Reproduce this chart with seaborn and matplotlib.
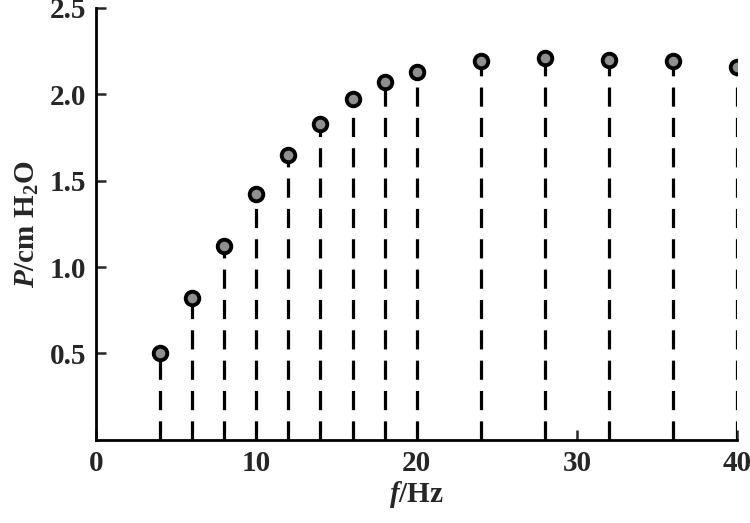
import matplotlib
matplotlib.use("Agg")
import matplotlib.pyplot as plt
import seaborn as sns
import pandas as pd

freq = [4, 6, 8, 10, 12, 14, 16, 18, 20, 24, 28, 32, 36, 40]
pressure = [0.50, 0.82, 1.12, 1.42, 1.65, 1.83, 1.97, 2.07, 2.13, 2.19, 2.21, 2.20, 2.19, 2.16]
x_ticks = [0, 10, 20, 30, 40]
y_ticks = [0.5, 1.0, 1.5, 2.0, 2.5]

df = pd.DataFrame({"f": freq, "P": pressure})

sns.set_style("ticks")
plt.rcParams["font.family"] = ["Liberation Serif", "DejaVu Serif"]
plt.rcParams["font.weight"] = "bold"
plt.rcParams["axes.labelweight"] = "bold"
plt.rcParams["mathtext.fontset"] = "custom"
plt.rcParams["mathtext.rm"] = "Liberation Serif:bold"
plt.rcParams["mathtext.it"] = "Liberation Serif:italic:bold"
plt.rcParams["mathtext.bf"] = "Liberation Serif:bold"

fig = plt.figure(figsize=(7.5, 5.23), dpi=100)
ax = fig.add_axes([0.128, 0.159, 0.855, 0.826])

ax.vlines(df["f"], 0, df["P"], colors="black", linewidth=2.3,
          linestyles=(0, (6, 3.5)), zorder=1)
sns.scatterplot(data=df, x="f", y="P", ax=ax, s=95, color="#8f8f8f",
                edgecolor="black", linewidth=2.8, zorder=2, legend=False)

ax.set_xlim(0, 40)
ax.set_ylim(0, 2.5)
ax.set_xticks(x_ticks)
ax.set_yticks(y_ticks)
ax.set_yticklabels([f"{v:.1f}" for v in y_ticks])
ax.tick_params(direction="in", length=7, width=1.8, labelsize=21, pad=7)
for side in ["top", "right"]:
    ax.spines[side].set_visible(False)
for side in ["left", "bottom"]:
    ax.spines[side].set_linewidth(2.0)
    ax.spines[side].set_color("black")

ax.set_xlabel(r"$f$/Hz", fontsize=21, fontweight="bold", labelpad=2)
ax.set_ylabel(r"$P$/cm H$_2$O", fontsize=21, fontweight="bold", labelpad=6)

plt.savefig("out.png", dpi=100)
plt.close()
